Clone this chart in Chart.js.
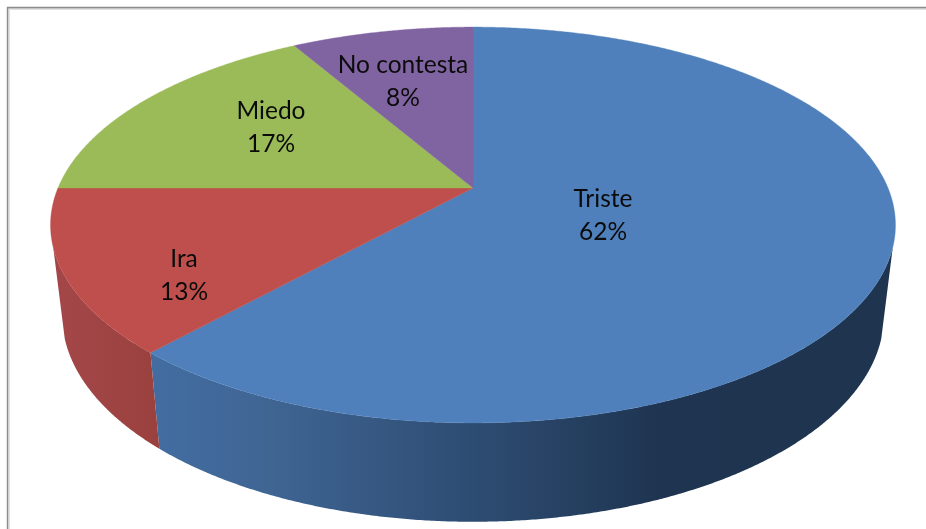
<!DOCTYPE html>
<html>
<head>
<meta charset="utf-8">
<style>html,body{margin:0;padding:0;background:#fff}canvas{display:block}</style>
<script src="https://cdn.jsdelivr.net/npm/chart.js@4"></script>
</head>
<body>
<canvas id="c" width="926" height="529"></canvas>
<script>
const categories = ['Triste', 'Ira', 'Miedo', 'No contesta'];
const countValues = [37, 8, 10, 5];
const sliceColors = ['#4f80bc', '#be4f4c', '#9bbb59', '#8064a2'];
const labelCentres = [[603, 216], [184, 276], [271, 128], [403, 82]];

// perspective of the disc: top face and bottom rim of the cylinder
const TOP = {x0: 473, y0: 188, A: 415, B: 191, k: 0.187};
const RIM = {x0: 473, y0: 277, A: 403.6, B: 199, k: 0.187};
const WALL_FROM = 107 * Math.PI / 180, WALL_TO = 253 * Math.PI / 180;
const wallStops = [
  [[0.16, '#436da2'], [0.29, '#3f6593'], [0.52, '#2d4b71'], [0.72, '#1e3450'], [1, '#1f344f']],
  [[0.05, '#a5474a'], [0.17, '#9a413e']],
  [], []
];

function project(p, theta, r) {
  const u = r * Math.sin(theta), v = -r * Math.cos(theta), w = 1 - p.k * v;
  return [p.x0 + p.A * u / w, p.y0 + p.B * v / w];
}
function trace(ctx, p, a, b) {
  const n = Math.max(2, Math.ceil(Math.abs(b - a) * 180));
  for (let i = 0; i <= n; i++) {
    const q = project(p, a + (b - a) * i / n, 1);
    ctx.lineTo(q[0], q[1]);
  }
}

const pie3d = {
  id: 'pie3d',
  beforeDatasetsDraw(chart) {
    const ctx = chart.ctx;
    // frame
    ctx.save();
    ctx.lineWidth = 1;
    ctx.strokeStyle = '#e0e0e0';
    ctx.beginPath(); ctx.moveTo(9.5, 529); ctx.lineTo(9.5, 9.5); ctx.lineTo(926, 9.5); ctx.stroke();
    ctx.lineWidth = 1.6;
    ctx.strokeStyle = '#8c8c8c';
    ctx.beginPath(); ctx.moveTo(7.6, 529); ctx.lineTo(7.6, 7.6); ctx.lineTo(926, 7.6); ctx.stroke();

    const arcs = chart.getDatasetMeta(0).data;
    const total = countValues.reduce((s, v) => s + v, 0);
    const slices = arcs.map((el, i) => ({
      a: el.startAngle + Math.PI / 2,
      b: el.endAngle + Math.PI / 2,
      color: el.options.backgroundColor,
      i
    }));

    // side wall
    slices.forEach(s => {
      const a = Math.max(s.a, WALL_FROM), b = Math.min(s.b, WALL_TO);
      if (b <= a) return;
      const g = ctx.createLinearGradient(0, 0, 926, 0);
      wallStops[s.i].forEach(st => g.addColorStop(st[0], st[1]));
      ctx.fillStyle = g;
      ctx.beginPath();
      trace(ctx, TOP, a, b);
      trace(ctx, RIM, b, a);
      ctx.closePath();
      ctx.fill();
    });

    // top face
    slices.forEach(s => {
      ctx.fillStyle = s.color;
      ctx.strokeStyle = s.color;
      ctx.lineWidth = 0.4;
      ctx.beginPath();
      ctx.moveTo(TOP.x0, TOP.y0);
      trace(ctx, TOP, s.a, s.b);
      ctx.closePath();
      ctx.fill();
      ctx.stroke();
    });

    // labels
    ctx.fillStyle = '#0b0b0b';
    ctx.font = '24.5px Lato';
    ctx.textAlign = 'center';
    ctx.textBaseline = 'middle';
    slices.forEach(s => {
      const c = labelCentres[s.i];
      ctx.fillText(categories[s.i], c[0], c[1] - 16.5);
      ctx.fillText(Math.round(100 * countValues[s.i] / total) + '%', c[0], c[1] + 16);
    });
    ctx.restore();
    return false;
  }
};

new Chart(document.getElementById('c'), {
  type: 'pie',
  data: {
    labels: categories,
    datasets: [{data: countValues, backgroundColor: sliceColors, borderWidth: 0}]
  },
  options: {
    responsive: false,
    animation: false,
    events: [],
    plugins: {legend: {display: false}, tooltip: {enabled: false}}
  },
  plugins: [pie3d]
});
</script>
</body>
</html>
